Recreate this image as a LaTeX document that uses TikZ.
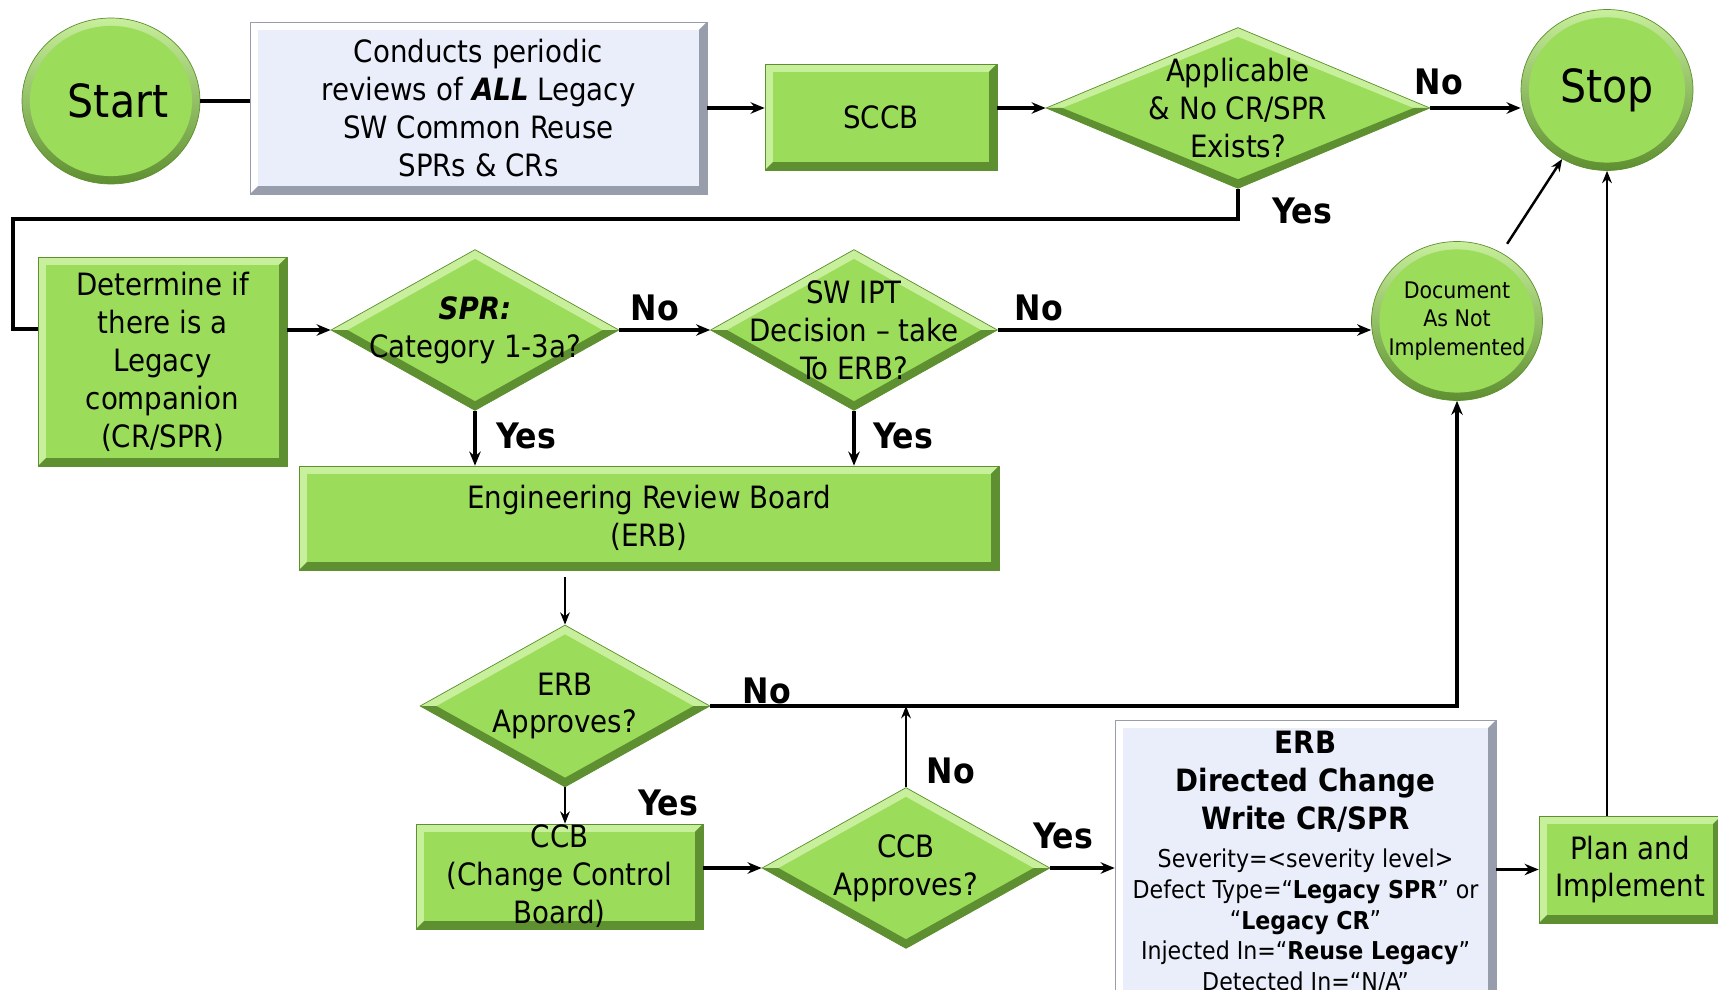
\documentclass[tikz,border=0pt]{standalone}
\usepackage{fontspec}
\setmainfont{DejaVu Sans Condensed}
\usetikzlibrary{shapes.geometric,arrows.meta}

\definecolor{grn}{HTML}{9BDC5A}
\definecolor{grnL}{HTML}{C8EF9C}
\definecolor{grnD}{HTML}{5E8F30}
\definecolor{lav}{HTML}{EAEEFA}
\definecolor{lavD}{HTML}{979DAB}
\newcommand{\bevw}{4.5pt}
\newcommand{\bigb}{\fontsize{17.5}{17.6}\selectfont\bfseries}

\begin{document}
\begin{tikzpicture}[x=0.02cm, y=-0.02cm,
    font=\fontsize{17.5}{21.6}\selectfont,
    every label/.style={align=center},
    rbevel/.style 2 args={path picture={
      \path (path picture bounding box.north west) coordinate (pp-nw)
            (path picture bounding box.north east) coordinate (pp-ne)
            (path picture bounding box.south west) coordinate (pp-sw)
            (path picture bounding box.south east) coordinate (pp-se);
      \fill[#1] (pp-sw) -- (pp-nw) -- (pp-ne) -- ([shift={(-\bevw,-\bevw)}]pp-ne)
        -- ([shift={(\bevw,-\bevw)}]pp-nw) -- ([shift={(\bevw,\bevw)}]pp-sw) -- cycle;
      \fill[#2] (pp-sw) -- (pp-se) -- (pp-ne) -- ([shift={(-\bevw,-\bevw)}]pp-ne)
        -- ([shift={(-\bevw,\bevw)}]pp-se) -- ([shift={(\bevw,\bevw)}]pp-sw) -- cycle;}},
    dbevel/.style 2 args={path picture={
      \path (path picture bounding box.north) coordinate (pp-n)
            (path picture bounding box.south) coordinate (pp-s)
            (path picture bounding box.east) coordinate (pp-e)
            (path picture bounding box.west) coordinate (pp-w);
      \fill[#1] (pp-w) -- (pp-n) -- (pp-e) -- ([xshift=-2.05*\bevw]pp-e)
        -- ([yshift=-1.15*\bevw]pp-n) -- ([xshift=2.05*\bevw]pp-w) -- cycle;
      \fill[#2] (pp-w) -- (pp-s) -- (pp-e) -- ([xshift=-2.05*\bevw]pp-e)
        -- ([yshift=1.15*\bevw]pp-s) -- ([xshift=2.05*\bevw]pp-w) -- cycle;}},
    gbox/.style 2 args={draw=grnD, line width=0.4pt, fill=grn, inner sep=0pt,
      align=center, minimum width=#1, minimum height=#2, rbevel={grnL}{grnD}},
    lbox/.style 2 args={draw=lavD, line width=0.4pt, fill=lav, inner sep=0pt,
      align=center, minimum width=#1, minimum height=#2, rbevel={white}{lavD}},
    dec/.style 2 args={diamond, draw=grnD, line width=0.4pt, fill=grn, inner sep=0pt,
      minimum width=#1, minimum height=#2, dbevel={grnL}{grnD}},
    term/.style 2 args={ellipse, draw=grnD, line width=0.4pt, top color=grnL,
      bottom color=grnD, inner sep=0pt, minimum width=#1, minimum height=#2,
      path picture={\fill[grn] (path picture bounding box.center)
        ellipse [x radius=#1/2-\bevw, y radius=#2/2-\bevw];}},
    wire/.style={line width=2pt},
    flow/.style={line width=2pt, -{Stealth[length=8pt,width=6.5pt]}},
    slim/.style={line width=1.4pt, -{Stealth[length=7pt,width=5.5pt]}},
    lbl/.style={font=\fontsize{20}{24}\selectfont\bfseries}
    ]
    \fill[white] (0,0) rectangle (1718,990);
    \useasboundingbox (0,0) rectangle (1718,990);

    \node[term={3.56cm}{3.32cm},
      label={[font=\fontsize{26}{30}\selectfont, xshift=4pt]center:Start}] (start) at (111,101) {};
    \node[lbox={9.14cm}{3.44cm}] (review) at (478.5,108)
      {Conducts periodic\\reviews of \textbf{\textit{ALL}} Legacy\\SW Common Reuse\\SPRs \& CRs};
    \node[gbox={4.64cm}{2.12cm}] (sccb) at (881,117) {SCCB};
    \node[dec={7.68cm}{3.22cm}, label=center:{Applicable\\\& No CR/SPR\\Exists?}] (appl) at (1238,108) {};
    \node[term={3.44cm}{3.22cm}, font=\fontsize{26}{30}\selectfont] (stop) at (1607,90) {Stop};

    \node[gbox={4.98cm}{4.18cm}] (det) at (162.5,361.5)
      {Determine if\\there is a\\Legacy\\companion\\(CR/SPR)};
    \node[dec={5.76cm}{3.22cm}, label=center:{\textbf{\textit{SPR:}}\\Category 1-3a?}] (spr) at (475,330) {};
    \node[dec={5.74cm}{3.22cm}, label=center:{SW IPT\\Decision – take\\To ERB?}] (ipt) at (854,330) {};
    \node[term={3.42cm}{3.18cm},
      label={[font=\fontsize{13}{16}\selectfont]center:{Document\\As Not\\Implemented}}] (doc) at (1457,321) {};

    \node[gbox={14cm}{2.08cm}] (erb) at (649,518) {Engineering Review Board\\(ERB)};
    \node[dec={5.8cm}{3.24cm}, label=center:{ERB\\Approves?}] (erbok) at (565,706) {};
    \node[gbox={5.74cm}{2.1cm}] (ccb) at (559.5,876.5) {CCB\\(Change Control\\Board)};
    \node[dec={5.76cm}{3.22cm}, label=center:{CCB\\Approves?}] (ccbok) at (906,868) {};
    \node[lbox={7.62cm}{5.68cm}, font=\fontsize{14}{17.6}\selectfont] (write) at (1305.5,862)
      {{\bigb ERB}\\[4pt]{\bigb Directed Change}\\[4pt]{\bigb Write CR/SPR}\\[4pt]
       Severity=<severity level>\\Defect Type=“\textbf{Legacy SPR}” or\\“\textbf{Legacy CR}”\\
       Injected In=“\textbf{Reuse Legacy}”\\Detected In=“N/A”};
    \node[gbox={3.64cm}{2.14cm}] (plan) at (1630,869.5) {Plan and\\Implement};

    \coordinate (loopT) at (13,219);
    \coordinate (loopB) at (13,329);

    \draw[wire] (start.east) -- (start.east -| review.west);
    \draw[flow] (review.east) -- (review.east -| sccb.west);
    \draw[flow] (appl.west -| sccb.east) -- (appl.west);
    \draw[flow] (appl.east) -- (appl.east -| stop.west);
    \draw[wire] (appl.south) |- (loopT) -- (loopB) -- (loopB -| det.west);
    \draw[flow] (det.east |- spr.west) -- (spr.west);
    \draw[flow] (spr.east) -- (ipt.west);
    \draw[flow] (ipt.east) -- (ipt.east -| doc.west);
    \draw[flow] (spr.south) -- (spr.south |- erb.north);
    \draw[flow] (ipt.south) -- (ipt.south |- erb.north);
    \draw[slim, shorten <=4pt] (erb.south -| erbok.north) -- (erbok.north);
    \draw[flow] (erbok.east) -| (doc.south);
    \draw[slim] (erbok.south) -- (erbok.south |- ccb.north);
    \draw[flow] (ccb.east |- ccbok.west) -- (ccbok.west);
    \draw[slim] (ccbok.north) -- (ccbok.north |- erbok.east);
    \draw[flow] (ccbok.east) -- (ccbok.east -| write.west);
    \draw[flow] (write.east |- plan.west) -- (plan.west);
    \draw[slim] (plan.north -| stop.south) -- (stop.south);
    \draw[slim, shorten <=6pt] (doc) -- (stop);

    \node[lbl] (no-a) at (1439,82) {No};
    \node[lbl] (yes-a) at (1302,211) {Yes};
    \node[lbl] (no-b) at (655,308) {No};
    \node[lbl] (no-c) at (1039,308) {No};
    \node[lbl] (yes-b) at (526,436) {Yes};
    \node[lbl] (yes-c) at (903,436) {Yes};
    \node[lbl] (no-d) at (767,691) {No};
    \node[lbl] (yes-d) at (668,803) {Yes};
    \node[lbl] (no-e) at (951,771) {No};
    \node[lbl] (yes-e) at (1063,836) {Yes};
\end{tikzpicture}
\end{document}
